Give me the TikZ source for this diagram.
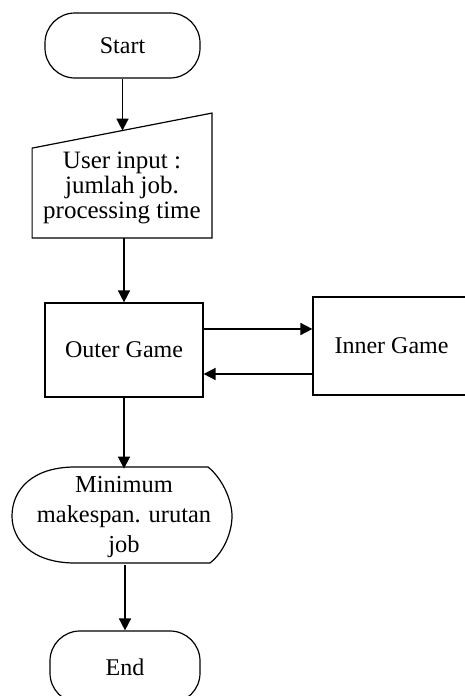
\documentclass[tikz,border=0pt]{standalone}
\usepackage{fontspec}
\setmainfont{Liberation Serif}
\usetikzlibrary{arrows.meta,calc}

\tikzset{
  box/.style={draw, line width=0.6pt, inner sep=0pt, align=center,
    font=\fontsize{12}{12.5}\selectfont},
  term/.style={box, rounded corners=15pt},
  plain/.style={inner sep=0pt, align=center},
  arr/.style={line width=0.8pt, -{Triangle[length=6pt,width=6pt]}},
  outline/.style={line width=0.6pt}
}

\begin{document}
\begin{tikzpicture}[x=0.5pt,y=-0.5pt]
  \fill[white] (0,0) rectangle (465,696);
  \useasboundingbox (0,0) rectangle (465,696);

  % terminal: start
  \node[term, minimum width=77.5pt, minimum height=32.5pt] (start) at (122.5,45.5) {Start};

  % manual input block (slanted top drawn around the text node)
  \node[plain, minimum width=89.5pt, minimum height=49.5pt,
        font=\fontsize{12.5}{12.5}\selectfont] (inp) at (122,188)
        {User input :\\ jumlah job.\\ processing time};
  \draw[outline] (inp.south west) -- (inp.south east)
     -- ([yshift=12.5pt]inp.north east) -- ([yshift=-5pt]inp.north west) -- cycle;
  \coordinate (inpin) at ([yshift=3.75pt]inp.north);

  % process boxes
  \node[box, minimum width=79pt, minimum height=47pt] (outer) at (124,350) {Outer Game};
  \node[box, minimum width=78.5pt, minimum height=49pt] (inner) at (391.5,346) {Inner Game};

  % display block with result
  \node[plain, minimum height=48pt, font=\fontsize{12.2}{15}\selectfont] (disp) at (124,517)
        {Minimum\\ makespan. urutan\\ job};
  \draw[outline] (75,467) -- (208,467)
     .. controls (222,478) and (232,500) .. (232,516)
     .. controls (232,532) and (224,552) .. (210,563)
     -- (75,563)
     .. controls (32,563) and (12,540) .. (12,516)
     .. controls (12,490) and (32,467) .. (75,467) -- cycle;

  % terminal: end
  \node[term, minimum width=75pt, minimum height=36pt] (end) at (125,667) {End};

  % flow
  \draw[arr] (start.south) -- (start.south |- inpin);
  \draw[arr] (inp.south -| outer.north) -- (outer.north);
  \coordinate (o1) at ([yshift=10.5pt]outer.east);
  \coordinate (o2) at ([yshift=-12pt]outer.east);
  \draw[arr] (o1) -- (o1 -| inner.west);
  \draw[arr] (o2 -| inner.west) -- (o2);
  \draw[arr] (outer.south) -- (outer.south |- disp.north);
  \draw[arr] (disp.south -| end.north) -- (end.north);
\end{tikzpicture}
\end{document}
